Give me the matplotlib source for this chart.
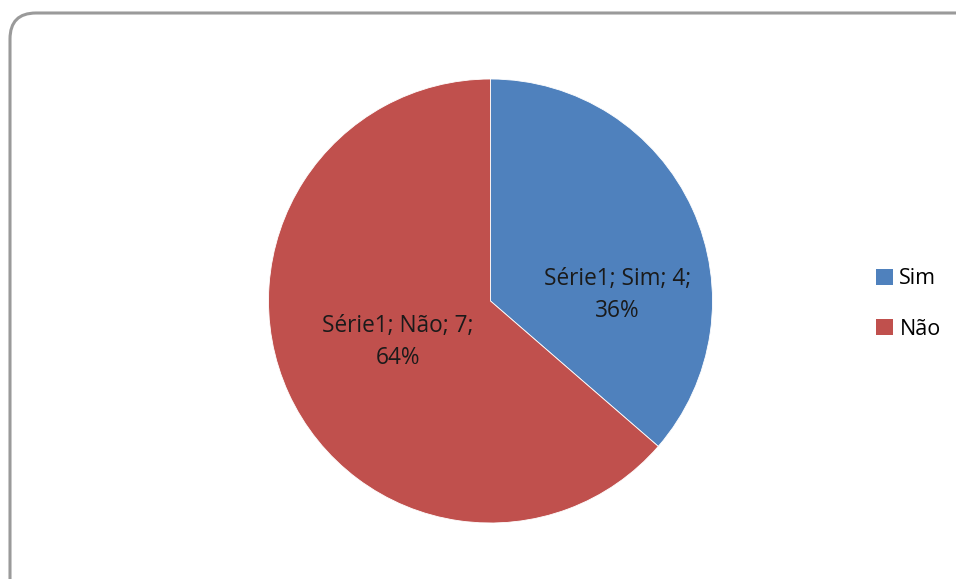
import matplotlib.pyplot as plt
from matplotlib.patches import FancyBboxPatch, Patch
from matplotlib.transforms import IdentityTransform

labels = ['Sim', 'Não']
values = [4, 7]
series = 'Série1'
colors = ['#4F81BD', '#C0504D']

W, H = 956, 579
fig = plt.figure(figsize=(W / 100, H / 100), dpi=100)
fig.patch.set_facecolor('white')

# rounded chart frame, in pixels (right and bottom edges run off the canvas)
frame = FancyBboxPatch((10, -40), 985, H - 13 + 40,
                       boxstyle='round,pad=0,rounding_size=26',
                       transform=IdentityTransform(), facecolor='none',
                       edgecolor='#9a9a9a', linewidth=2.2)
fig.patches.append(frame)

# pie axes: centre (490, 301), radius 222
cx, cy, r = 490.5, 301, 222
ax = fig.add_axes([(cx - r) / W, (H - cy - r) / H, 2 * r / W, 2 * r / H])
wedges, _ = ax.pie(values, colors=colors, startangle=90, counterclock=False,
                   radius=1, wedgeprops=dict(edgecolor='white', linewidth=0.6))
ax.set_xlim(-1, 1)
ax.set_ylim(-1, 1)
ax.set_aspect('equal')
ax.axis('off')

total = sum(values)
label_pos = [(0.572, 0.027), (-0.417, -0.185)]
for lab, v, (x, y) in zip(labels, values, label_pos):
    pct = round(100 * v / total)
    ax.text(x, y, f'{series}; {lab}; {v};\n{pct}%', ha='center', va='center',
            fontsize=16.3, family='Open Sans', color='#1a1a1a', linespacing=1.4)

handles = [Patch(facecolor=c, edgecolor='none') for c in colors]
fig.legend(handles, labels, loc='center left', bbox_to_anchor=(857 / W, 1 - 304 / H),
           frameon=False, handlelength=0.75, handleheight=0.75, handletextpad=0.32,
           labelspacing=1.35, prop={'family': 'Open Sans', 'size': 15.5})

fig.savefig('out.png', dpi=100, facecolor='white')
